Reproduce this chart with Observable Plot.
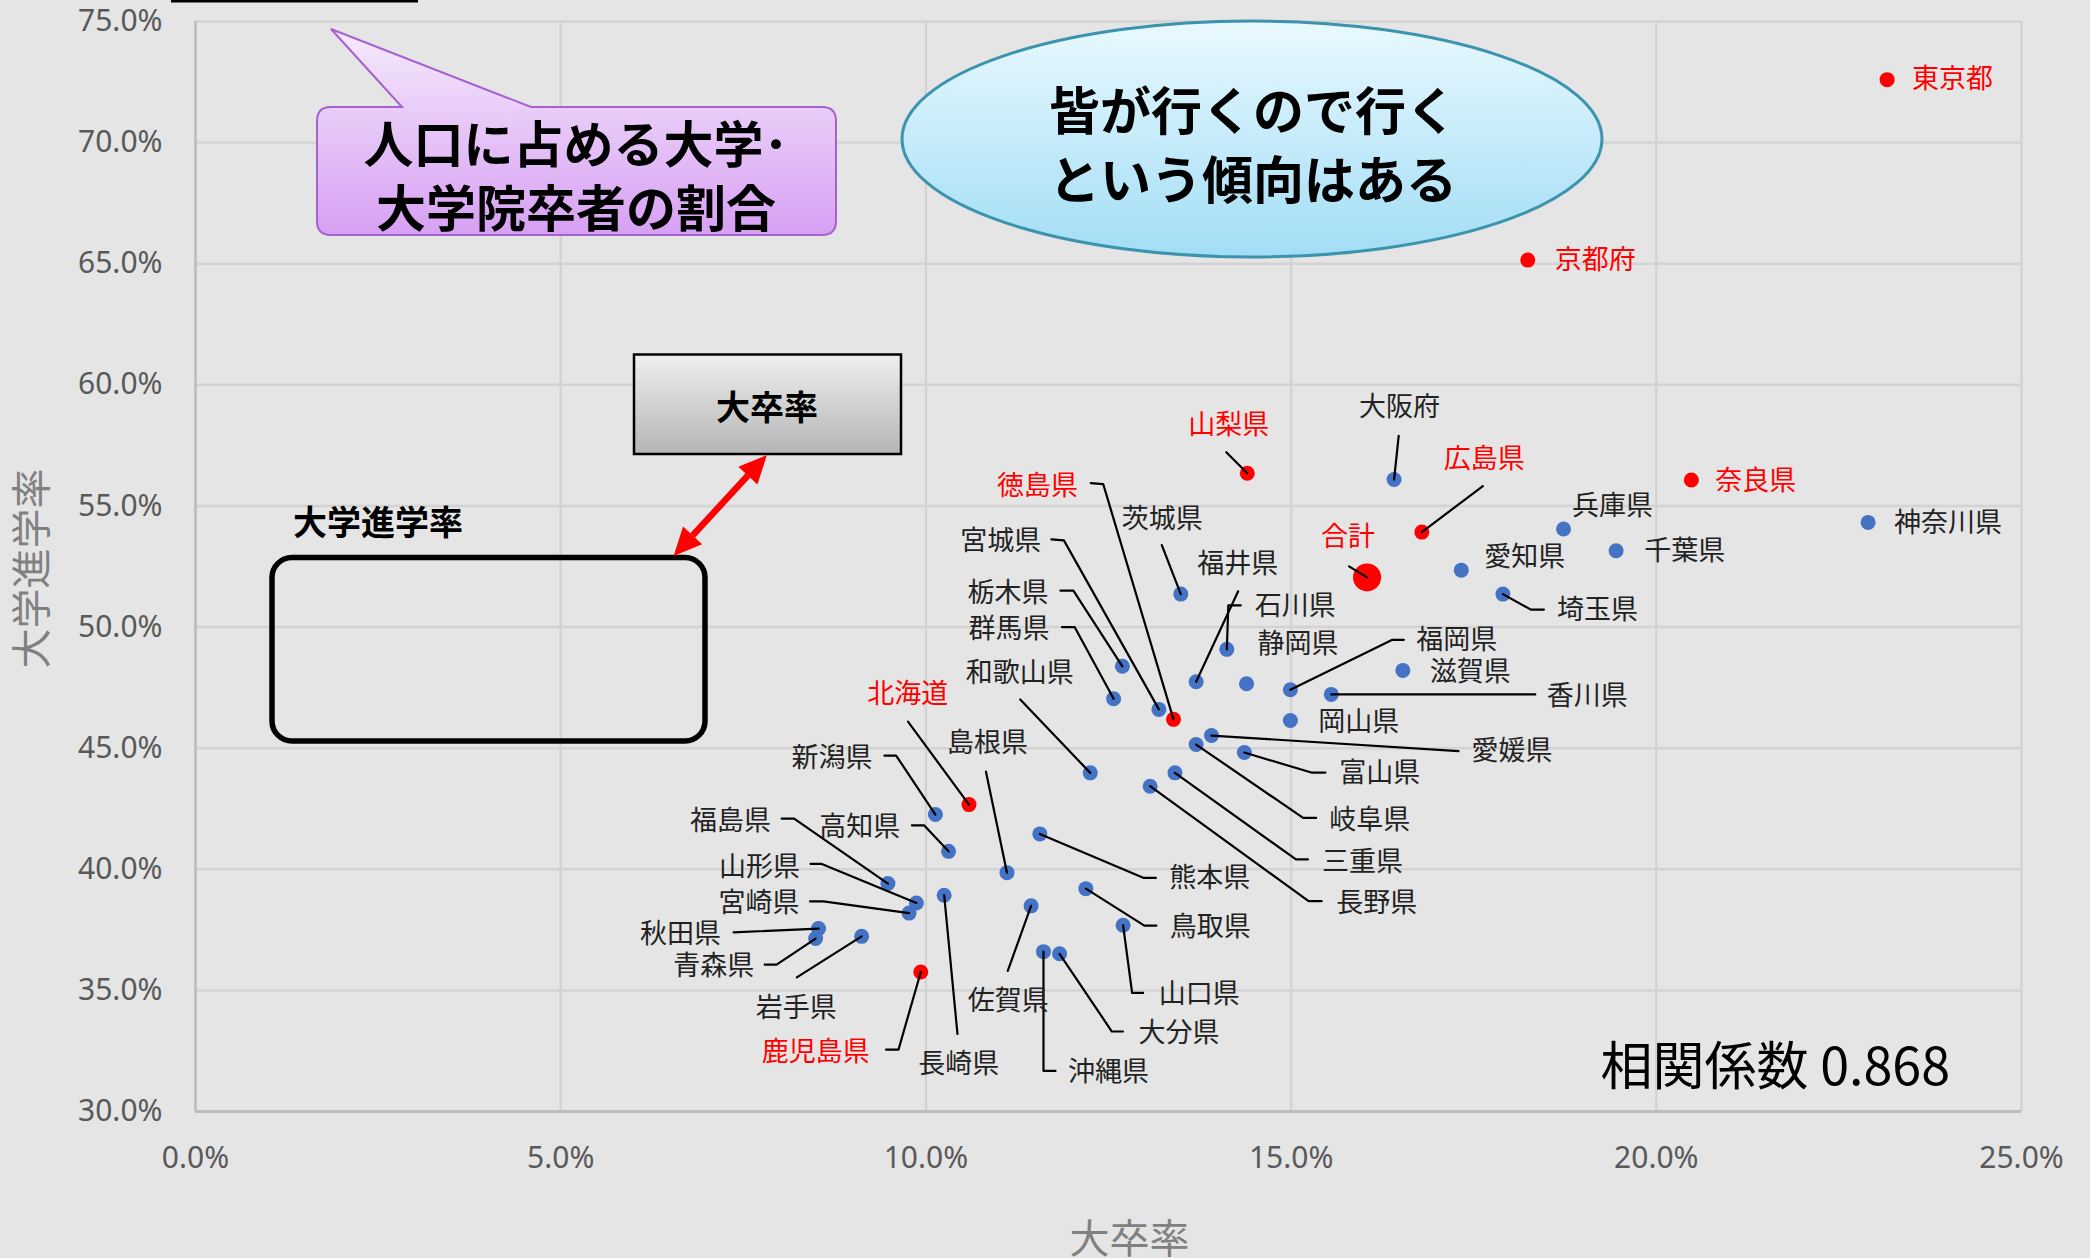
<!DOCTYPE html>
<html><head><meta charset="utf-8">
<script src="https://cdn.jsdelivr.net/npm/d3@7"></script>
<script src="https://cdn.jsdelivr.net/npm/@observablehq/plot@0.6"></script>
<style>
html,body{margin:0;padding:0;background:#e5e5e5;overflow:hidden}
#chart{position:relative;width:2090px;height:1258px}
</style></head><body><div id="chart"></div>
<script>
// ---- data ----
const names = ["東京都","京都府","奈良県","神奈川県","山梨県","大阪府","広島県","兵庫県","千葉県","愛知県","合計","埼玉県","茨城県","石川県","福井県","静岡県","福岡県","滋賀県","香川県","岡山県","愛媛県","富山県","岐阜県","三重県","長野県","徳島県","宮城県","栃木県","群馬県","和歌山県","北海道","新潟県","島根県","高知県","熊本県","福島県","山形県","宮崎県","長崎県","秋田県","青森県","岩手県","鹿児島県","佐賀県","鳥取県","山口県","沖縄県","大分県"];
const daisotsuRate = [23.16,18.24,20.48,22.90,14.40,16.41,16.79,18.73,19.45,17.33,16.04,17.90,13.49,14.12,13.70,14.39,14.99,16.53,15.55,14.99,13.91,14.36,13.70,13.41,13.07,13.39,13.19,12.69,12.57,12.25,10.59,10.13,11.11,10.31,11.56,9.48,9.87,9.77,10.25,8.53,8.49,9.12,9.93,11.44,12.19,12.70,11.61,11.83];
const shingakuRate = [72.60,65.15,56.07,54.32,56.35,56.09,53.92,54.05,53.15,52.35,52.05,51.36,51.36,49.08,47.74,47.66,47.41,48.21,47.22,46.14,45.52,44.82,45.15,43.98,43.43,46.19,46.60,48.38,47.04,43.98,42.67,42.26,39.86,40.74,41.46,39.41,38.61,38.19,38.93,37.55,37.14,37.23,35.76,38.49,39.20,37.69,36.60,36.51];
const highlighted = ["東京都","京都府","奈良県","山梨県","広島県","合計","徳島県","北海道","鹿児島県"];
const totalName = "合計";
const xTicks = [0,5,10,15,20,25];
const yTicks = [30,35,40,45,50,55,60,65,70,75];
const xTitle = "大卒率";
const yTitle = "大学進学率";
const corrText = "相関係数 0.868";

// ---- label layout (pixel offsets from each point) ----
const layout = {
"東京都":{label:[25,0]},
"京都府":{label:[27,0]},
"奈良県":{label:[24,1]},
"神奈川県":{label:[26,1]},
"山梨県":{label:[-59,-48],leader:[[-21,-21],[0,0]]},
"大阪府":{label:[-35,-72],leader:[[4.6,-43.7],[0,0]]},
"広島県":{label:[22,-73],leader:[[61,-46],[0,0]]},
"兵庫県":{label:[8.5,-23]},
"千葉県":{label:[28,0.7]},
"愛知県":{label:[23,-13]},
"合計":{label:[-46,-40],leader:[[-18,-11],[0,0]]},
"埼玉県":{label:[54,16],leader:[[41,15.5],[28,15.5],[0,0]]},
"茨城県":{label:[-59,-75],leader:[[-19,-49],[0,0]]},
"石川県":{label:[28,-43],leader:[[14,-44],[1.5,-44],[0,0]]},
"福井県":{label:[1,-117],leader:[[42,-90.5],[0,0]]},
"静岡県":{label:[11,-39]},
"福岡県":{label:[126,-49],leader:[[113.5,-50],[102,-50],[0,0]]},
"滋賀県":{label:[27,2]},
"香川県":{label:[215.5,1.5],leader:[[204,0],[0,0]]},
"岡山県":{label:[28,2]},
"愛媛県":{label:[260,15.5],leader:[[247,15.5],[0,0]]},
"富山県":{label:[95,21],leader:[[81,20],[67,20],[0,0]]},
"岐阜県":{label:[133,76],leader:[[120,73.4],[107,73.4],[0,0]]},
"三重県":{label:[147,89],leader:[[133,86.6],[121,86.6],[0,0]]},
"長野県":{label:[186,117],leader:[[171.5,115],[158.5,115],[0,0]]},
"徳島県":{label:[-176.5,-233],leader:[[-82.7,-236.3],[-70.3,-235.3],[0,0]]},
"宮城県":{label:[-198.6,-168.3],leader:[[-107.5,-170],[-95,-169],[0,0]]},
"栃木県":{label:[-155,-73.3],leader:[[-62,-75.7],[-49,-75.7],[0,0]]},
"群馬県":{label:[-145,-69.4],leader:[[-51.7,-71.7],[-39,-71.7],[0,0]]},
"和歌山県":{label:[-124.5,-100],leader:[[-70,-73.4],[0,0]]},
"北海道":{label:[-101.8,-110.6],leader:[[-61,-83],[0,0]]},
"新潟県":{label:[-144,-56.6],leader:[[-51,-59],[-39.3,-59],[0,0]]},
"島根県":{label:[-60,-129],leader:[[-21,-101],[0,0]]},
"高知県":{label:[-129.4,-24.3],leader:[[-36.6,-26],[-24.5,-26],[0,0]]},
"熊本県":{label:[129.5,44],leader:[[116,44],[104,44],[0,0]]},
"福島県":{label:[-197.8,-62.3],leader:[[-106.3,-65],[-93.8,-65],[0,0]]},
"山形県":{label:[-197.3,-35.7],leader:[[-105.8,-39],[-94.6,-39],[0,0]]},
"宮崎県":{label:[-190.6,-10],leader:[[-99,-11.7],[-85.7,-11.7],[0,0]]},
"長崎県":{label:[-26,169],leader:[[13.3,138.7],[0,0]]},
"秋田県":{label:[-178.6,5.4],leader:[[-85,3.7],[0,0]]},
"青森県":{label:[-142.4,27.7],leader:[[-51,26],[-39,26],[0,0]]},
"岩手県":{label:[-105.8,71.7],leader:[[-64.8,41],[0,0]]},
"鹿児島県":{label:[-159,80],leader:[[-34.8,77.6],[-22.3,77.6],[0,0]]},
"佐賀県":{label:[-63.4,95.7],leader:[[-23.3,65],[0,0]]},
"鳥取県":{label:[84,38.7],leader:[[70.5,37],[58.5,37],[0,0]]},
"山口県":{label:[35.7,69.3],leader:[[20,67.7],[9,67.7],[0,0]]},
"沖縄県":{label:[24.6,120.7],leader:[[12,119.3],[0,119.3],[0,0]]},
"大分県":{label:[79,79.4],leader:[[63.4,77.7],[52.3,77.7],[0,0]]}
};

const W = 2090, H = 1258, mL = 195, mR = 69, mT = 21, mB = 147;
const xDom = [0,25], yDom = [30,75];
const kx = (W - mL - mR) / (xDom[1] - xDom[0]);
const ky = (H - mT - mB) / (yDom[1] - yDom[0]);

const points = names.map((n,i) => ({name:n, x:daisotsuRate[i], y:shingakuRate[i], red: highlighted.includes(n)}));
const labels = points.map(d => { const o = layout[d.name].label; return {...d, lx: d.x + o[0]/kx, ly: d.y - o[1]/ky}; });
const leaders = points.flatMap(d => (layout[d.name].leader || []).map(p => ({name:d.name, x: d.x + p[0]/kx, y: d.y - p[1]/ky})));

const jp = "'Noto Sans CJK JP', 'Noto Sans', sans-serif";
const pct = d => d.toFixed(1) + "%";

const chart = Plot.plot({
  width: W, height: H,
  marginLeft: mL, marginRight: mR, marginTop: mT, marginBottom: mB,
  style: {background: "#e5e5e5", fontFamily: jp, overflow: "visible"},
  x: {domain: xDom, label: null},
  y: {domain: yDom, label: null},
  marks: [
    Plot.gridX(xTicks, {stroke: "#d3d3d3", strokeOpacity: 1, strokeWidth: 2.5}),
    Plot.gridY(yTicks, {stroke: "#d3d3d3", strokeOpacity: 1, strokeWidth: 2.5}),
    Plot.ruleX([xDom[0]], {stroke: "#bdbdbd", strokeWidth: 2.5}),
    Plot.ruleY([yDom[0]], {stroke: "#bdbdbd", strokeWidth: 3}),
    Plot.axisX(xTicks, {tickFormat: pct, tickSize: 0, tickPadding: 35, fontSize: 30, fill: "#595959", fontFamily: "'Noto Sans', sans-serif", label: null}),
    Plot.axisY(yTicks, {tickFormat: pct, tickSize: 0, tickPadding: 33, fontSize: 30, fill: "#595959", fontFamily: "'Noto Sans', sans-serif", label: null}),
    Plot.dot(points.filter(d => !d.red), {x: "x", y: "y", r: 7.5, fill: "#4472C4", stroke: "none"}),
    Plot.dot(points.filter(d => d.red && d.name !== totalName), {x: "x", y: "y", r: 7.5, fill: "#FF0000", stroke: "none"}),
    Plot.dot(points.filter(d => d.name === totalName), {x: "x", y: "y", r: 14, fill: "#FF0000", stroke: "none"}),
    Plot.line(leaders, {x: "x", y: "y", z: "name", stroke: "#000", strokeWidth: 2.2, curve: "linear"}),
    Plot.text(labels.filter(d => !d.red), {x: "lx", y: "ly", text: "name", textAnchor: "start", fontSize: 27, fill: "#222"}),
    Plot.text(labels.filter(d => d.red), {x: "lx", y: "ly", text: "name", textAnchor: "start", fontSize: 27, fill: "#FF0000"}),
    Plot.text([yTitle], {text: d => d, frameAnchor: "left", dx: -162.5, dy: 2, rotate: -90, textAnchor: "middle", lineAnchor: "middle", fontSize: 40, fill: "#808080"}),
    Plot.text([xTitle], {text: d => d, frameAnchor: "bottom", dx: 21, dy: 129, textAnchor: "middle", lineAnchor: "middle", fontSize: 40, fill: "#808080"}),
    Plot.text([corrText], {text: d => d, frameAnchor: "bottom-left", dx: 1405, dy: -43, textAnchor: "start", lineAnchor: "middle", fontSize: 52, fill: "#000"})
  ]
});
document.getElementById("chart").appendChild(chart);

// ---- decorative annotations ----
const svg = d3.select(chart);
const defs = svg.append("defs");
function grad(id, c1, c2) {
  const g = defs.append("linearGradient").attr("id", id).attr("x1", 0).attr("y1", 0).attr("x2", 0).attr("y2", 1);
  g.append("stop").attr("offset", "0%").attr("stop-color", c1);
  g.append("stop").attr("offset", "100%").attr("stop-color", c2);
}
grad("gPurple", "#f5eafc", "#d7a0f3");
grad("gCyan", "#e9f9fe", "#a2ddf5");
grad("gGray", "#efefef", "#b5b5b5");
const ann = svg.append("g").attr("font-family", jp);

// top black bar
ann.append("rect").attr("x", 171).attr("y", 0).attr("width", 247).attr("height", 2.5).attr("fill", "#000");

// purple callout
ann.append("path")
  .attr("d", "M331,29 L531,107 H822 Q836,107 836,121 V221 Q836,235 822,235 H331 Q317,235 317,221 V121 Q317,107 331,107 H402 Z")
  .attr("fill", "url(#gPurple)").attr("stroke", "#a561d1").attr("stroke-width", 2);
[["人口に占める大学･", 141], ["大学院卒者の割合", 205]].forEach(([t, y]) =>
  ann.append("text").attr("x", 576).attr("y", y).attr("text-anchor", "middle").attr("dominant-baseline", "central")
    .attr("font-size", 50).attr("font-weight", "bold").attr("fill", "#000").text(t));

// cyan ellipse
ann.append("ellipse").attr("cx", 1252).attr("cy", 139).attr("rx", 350).attr("ry", 118)
  .attr("fill", "url(#gCyan)").attr("stroke", "#3b93ad").attr("stroke-width", 3);
[["皆が行くので行く", 108], ["という傾向はある", 177]].forEach(([t, y]) =>
  ann.append("text").attr("x", 1253).attr("y", y).attr("text-anchor", "middle").attr("dominant-baseline", "central")
    .attr("font-size", 51).attr("font-weight", "bold").attr("fill", "#000").text(t));

// gray box
ann.append("rect").attr("x", 634).attr("y", 354.5).attr("width", 267).attr("height", 99.5)
  .attr("fill", "url(#gGray)").attr("stroke", "#000").attr("stroke-width", 2.5);
ann.append("text").attr("x", 767).attr("y", 405).attr("text-anchor", "middle").attr("dominant-baseline", "central")
  .attr("font-size", 34).attr("font-weight", "bold").attr("fill", "#000").text("大卒率");

// 大学進学率 label and rounded box
ann.append("text").attr("x", 378).attr("y", 520).attr("text-anchor", "middle").attr("dominant-baseline", "central")
  .attr("font-size", 34).attr("font-weight", "bold").attr("fill", "#000").text("大学進学率");
ann.append("rect").attr("x", 272).attr("y", 557.5).attr("width", 433).attr("height", 183.5).attr("rx", 20)
  .attr("fill", "none").attr("stroke", "#000").attr("stroke-width", 5.5);

// red double arrow
(function() {
  const A = [673.6, 556], B = [766.9, 455];
  const dx = B[0]-A[0], dy = B[1]-A[1], L = Math.hypot(dx, dy);
  const u = [dx/L, dy/L], n = [-u[1], u[0]];
  const hl = 28, hw = 13;
  const a2 = [A[0]+u[0]*hl, A[1]+u[1]*hl], b2 = [B[0]-u[0]*hl, B[1]-u[1]*hl];
  ann.append("line").attr("x1", a2[0]).attr("y1", a2[1]).attr("x2", b2[0]).attr("y2", b2[1])
    .attr("stroke", "#FF0000").attr("stroke-width", 6.5);
  const head = (tip, base) => `M${tip[0]},${tip[1]} L${base[0]+n[0]*hw},${base[1]+n[1]*hw} L${base[0]-n[0]*hw},${base[1]-n[1]*hw} Z`;
  ann.append("path").attr("d", head(A, a2)).attr("fill", "#FF0000");
  ann.append("path").attr("d", head(B, b2)).attr("fill", "#FF0000");
})();
</script></body></html>
